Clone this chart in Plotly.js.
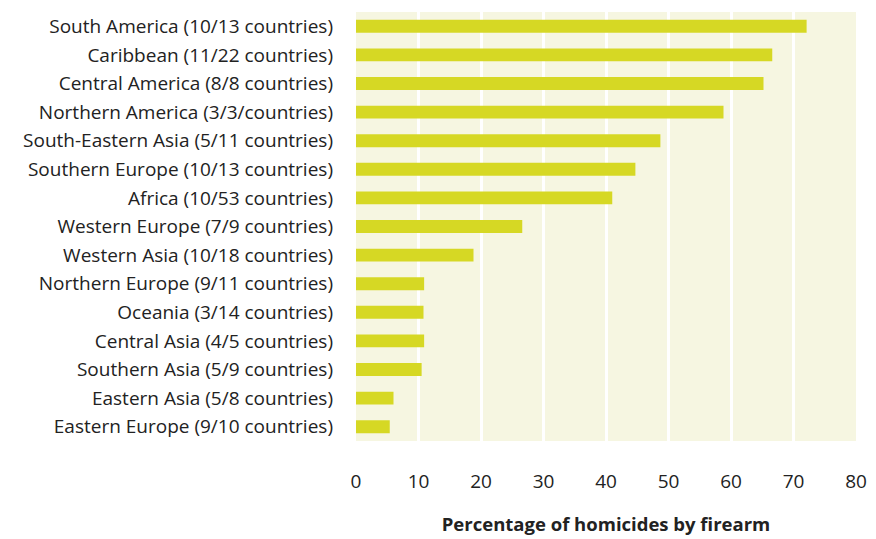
<!DOCTYPE html>
<html>
<head>
<meta charset="utf-8">
<script src="https://cdn.plot.ly/plotly-3.0.1.min.js"></script>
<style>html,body{margin:0;padding:0;background:#fff;}#chart{width:876px;height:539px;}</style>
</head>
<body>
<div id="chart"></div>
<script>
const regions = [
  "South America (10/13 countries)",
  "Caribbean (11/22 countries)",
  "Central America (8/8 countries)",
  "Northern America (3/3/countries)",
  "South-Eastern Asia (5/11 countries)",
  "Southern Europe (10/13 countries)",
  "Africa (10/53 countries)",
  "Western Europe (7/9 countries)",
  "Western Asia (10/18 countries)",
  "Northern Europe (9/11 countries)",
  "Oceania (3/14 countries)",
  "Central Asia (4/5 countries)",
  "Southern Asia (5/9 countries)",
  "Eastern Asia (5/8 countries)",
  "Eastern Europe (9/10 countries)"
];
const firearmShare = [72.1, 66.6, 65.2, 58.8, 48.7, 44.7, 41.0, 26.6, 18.8, 10.9, 10.8, 10.9, 10.5, 6.0, 5.4];
const xTicks = [0, 10, 20, 30, 40, 50, 60, 70, 80];

const trace = {
  type: 'bar',
  orientation: 'h',
  y: regions,
  x: firearmShare,
  width: 0.45,
  marker: {color: '#d6d824'},
  hoverinfo: 'x+y'
};

const layout = {
  width: 876, height: 539,
  margin: {l: 356, r: 20, t: 12, b: 98},
  paper_bgcolor: '#ffffff',
  plot_bgcolor: '#f6f6e1',
  font: {family: '"Open Sans", Lato, sans-serif', color: '#222222', size: 17},
  showlegend: false,
  xaxis: {
    range: [0, 80],
    tickvals: xTicks,
    ticktext: xTicks.map(String),
    showgrid: true,
    gridcolor: '#ffffff',
    gridwidth: 3,
    zeroline: false,
    showline: false,
    ticks: '',
    ticklabelstandoff: 27,
    tickfont: {size: 19, color: '#222222'},
    title: {text: '<b>Percentage of homicides by firearm</b>', font: {size: 18.5, color: '#222222'}, standoff: 25},
    fixedrange: true
  },
  yaxis: {
    autorange: 'reversed',
    showgrid: false,
    zeroline: false,
    showline: false,
    ticks: '',
    ticklabelstandoff: 22,
    tickfont: {size: 19, color: '#222222'},
    fixedrange: true
  }
};

Plotly.newPlot('chart', [trace], layout, {displayModeBar: false, staticPlot: true});
</script>
</body>
</html>
